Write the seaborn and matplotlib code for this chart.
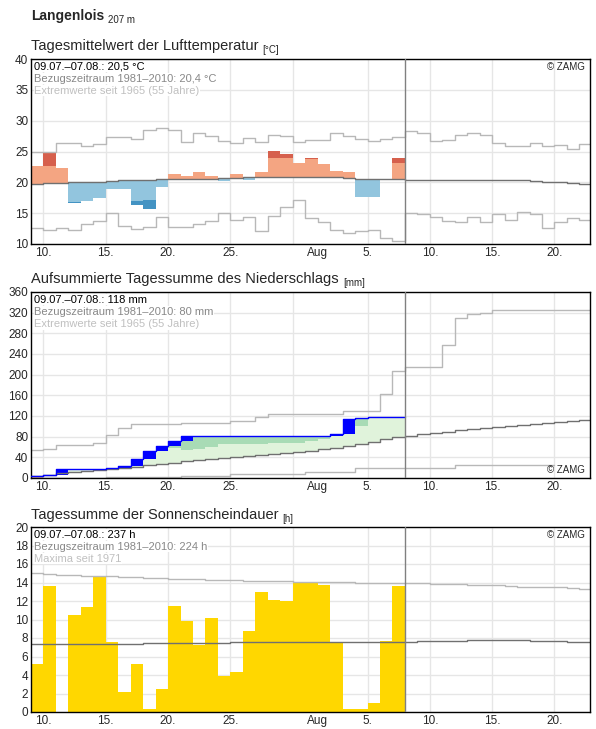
import matplotlib
matplotlib.use("Agg")
import matplotlib.pyplot as plt
import seaborn as sns
import numpy as np
import pandas as pd

# days counted from 09.07. (0) ; observations 09.07.-07.08. (30 days)
tick_pos = [1, 6, 11, 16, 23, 27, 32, 37, 42]
tick_lab = ['10.', '15.', '20.', '25.', 'Aug', '5.', '10.', '15.', '20.']
grid_pos = [1, 6, 11, 16, 21, 27, 32, 37, 42]

# temperature
temp = [22.7, 24.8, 22.3, 16.6, 16.9, 17.4, 18.9, 18.9, 16.4, 15.6,
        19.2, 21.3, 21.0, 21.6, 21.0, 20.2, 21.4, 20.3, 21.6, 25.1,
        24.6, 23.1, 24.0, 23.0, 21.8, 21.6, 17.6, 17.7, 20.6, 24.0]
temp_dark = [np.nan, 22.7, np.nan, 16.8, np.nan, np.nan, np.nan, np.nan, 17.0, 17.2,
             np.nan, np.nan, np.nan, np.nan, np.nan, np.nan, np.nan, np.nan, np.nan, 23.9,
             23.9, np.nan, 23.85, np.nan, np.nan, np.nan, np.nan, np.nan, np.nan, 23.2]
temp_mean = [19.8, 19.9, 19.9, 20.0, 20.0, 20.0, 20.2, 20.3, 20.4, 20.4,
             20.5, 20.6, 20.6, 20.6, 20.6, 20.7, 20.7, 20.8, 20.8, 20.9,
             20.9, 20.9, 20.9, 20.9, 20.8, 20.7, 20.6, 20.6, 20.6, 20.5,
             20.4, 20.4, 20.4, 20.4, 20.4, 20.4, 20.4, 20.4, 20.4, 20.3,
             20.2, 20.1, 20.0, 19.9, 19.7, 19.6]
temp_max = [25.0, 25.0, 26.4, 26.4, 25.9, 26.2, 27.3, 27.3, 27.0, 28.5,
            28.8, 28.5, 26.5, 28.0, 27.5, 26.7, 26.4, 27.2, 26.5, 27.7,
            27.5, 26.5, 26.8, 26.8, 28.0, 27.5, 27.1, 26.7, 27.1, 27.3,
            28.3, 28.0, 26.7, 26.9, 27.6, 28.0, 27.6, 26.4, 25.9, 25.9,
            26.3, 25.9, 26.0, 25.4, 26.2, 26.2]
temp_min = [12.6, 12.3, 12.6, 12.3, 13.3, 13.8, 15.0, 13.0, 12.5, 12.7,
            14.4, 12.7, 12.7, 13.2, 13.8, 15.0, 13.9, 14.4, 12.1, 14.5,
            16.0, 17.2, 14.2, 13.6, 12.3, 11.8, 12.1, 12.3, 10.9, 10.5,
            15.0, 14.8, 14.4, 13.8, 13.5, 14.4, 13.6, 14.9, 13.9, 15.2,
            14.9, 12.6, 13.6, 14.2, 13.9, 13.9]

# precipitation (cumulative)
rain_cum = [3, 6, 17, 17, 17, 17, 19, 23, 37, 52,
            61, 71, 81, 81, 81, 81, 81, 81, 81, 82,
            82, 82, 82, 82, 86, 115, 117, 118, 118, 118]
rain_dark_lo = [np.nan] * 11 + [59, 55, 56, 60, 65, 65, 65, 65, 67,
                                67, 67, 72, 76, 82, 88, 100, 106, np.nan, np.nan]
rain_mean = [4, 6, 9, 11, 13, 15, 17, 19, 22, 25,
             28, 30, 32, 34, 36, 38, 40, 42, 44, 46,
             48, 50, 53, 56, 59, 62, 66, 70, 75, 80,
             82, 85, 87, 89, 92, 94, 96, 99, 101, 103,
             105, 107, 109, 111, 113, 114]
rain_max = [55, 57, 64, 64, 64, 67, 84, 96, 105, 105,
            105, 105, 107, 107, 107, 107, 110, 110, 119, 124,
            124, 124, 124, 124, 124, 130, 130, 130, 163, 208,
            215, 215, 215, 258, 310, 317, 319, 325, 325, 325,
            325, 325, 325, 325, 325, 325]
rain_min = [0, 0, 0, 0, 0, 0, 2, 2, 2, 2,
            2, 2, 4, 4, 4, 4, 7, 7, 7, 7,
            7, 7, 12, 12, 12, 12, 20, 20, 20, 20,
            20, 20, 20, 20, 26, 26, 26, 26, 26, 26,
            26, 26, 26, np.nan, np.nan, np.nan]

# sunshine duration
sun = [5.2, 13.6, 0, 10.5, 11.4, 14.6, 7.6, 2.2, 5.2, 0.3,
       2.5, 11.5, 9.8, 7.2, 10.2, 3.9, 4.3, 8.8, 13.0, 12.1,
       12.0, 14.0, 14.0, 13.7, 7.5, 0.3, 0.3, 1.0, 7.7, 13.6]
sun_mean = [7.4] * 9 + [7.5] * 7 + [7.6] * 15 + [7.7] * 4 + [7.8] * 5 + [7.7] * 3 + [7.6] * 3
sun_max = [15.0, 14.9, 14.8, 14.8, 14.75, 14.7, 14.7, 14.6, 14.55, 14.5,
           14.45, 14.4, 14.35, 14.35, 14.3, 14.3, 14.25, 14.2, 14.2, 14.15,
           14.15, 14.1, 14.1, 14.1, 14.05, 14.05, 14.0, 14.0, 14.0, 13.95,
           13.95, 13.9, 13.85, 13.8, 13.8, 13.75, 13.7, 13.7, 13.6, 13.55,
           13.55, 13.5, 13.5, 13.4, 13.25, 13.25]

sns.set_style("white")
plt.rcParams['font.family'] = ['Liberation Sans', 'DejaVu Sans']

fig = plt.figure(figsize=(5.96, 7.29), dpi=100)
W, H = 596, 729
def add_ax(top, bottom):
    return fig.add_axes([31 / W, 1 - bottom / H, (590 - 31) / W, (bottom - top) / H])

ax1 = add_ax(59, 244)
ax2 = add_ax(292, 478)
ax3 = add_ax(527, 712)

def step(ax, vals, color, lw=1.0):
    v = list(vals)
    df = pd.DataFrame({'x': np.arange(len(v) + 1), 'y': v + [v[-1]]})
    sns.lineplot(data=df, x='x', y='y', ax=ax, drawstyle='steps-post', color=color, lw=lw)
    ax.set_xlabel('')
    ax.set_ylabel('')

def style(ax, ylim, yticks):
    ax.set_xlim(0, 44.85)
    ax.set_ylim(*ylim)
    ax.set_yticks(yticks)
    ax.set_xticks(tick_pos)
    ax.set_xticklabels(tick_lab)
    for g in grid_pos:
        ax.axvline(g, color='#e6e6e6', lw=1, zorder=0)
    for t in yticks:
        ax.axhline(t, color='#e6e6e6', lw=1, zorder=0)
    ax.axvline(30, color='#808080', lw=1, zorder=5)
    ax.tick_params(labelsize=8.5, length=0, pad=2)
    for s in ax.spines.values():
        s.set_color('black')
        s.set_linewidth(1)

days = np.arange(30)
bar_kw = dict(width=1, align='edge', linewidth=0, edgecolor='none')

# --- temperature
style(ax1, (10, 40), range(10, 41, 5))
tm = np.array(temp_mean[:30])
tv = np.array(temp)
cols = ['#f4a582' if v >= m else '#92c5de' for v, m in zip(tv, tm)]
ax1.bar(days, tv - tm, bottom=tm, color=cols, zorder=2, **bar_kw)
td = np.array(temp_dark)
dcols = ['#d6604d' if v >= m else '#4393c3' for v, m in zip(tv, tm)]
ax1.bar(days, tv - td, bottom=td, color=dcols, zorder=2, **bar_kw)
step(ax1, temp_max, '#b8b8b8')
step(ax1, temp_min, '#b8b8b8')
step(ax1, temp_mean, '#707070')

# --- precipitation
style(ax2, (0, 360), range(0, 361, 40))
x31 = np.arange(31)
rc = np.array(rain_cum + [rain_cum[-1]], float)
rm = np.array(rain_mean[:31], float)
ax2.fill_between(x31, rm, rc, where=rc >= rm, step='post', color='#e0f3db', lw=0, zorder=1)
dl = np.array(rain_dark_lo + [np.nan], float)
ax2.fill_between(x31, dl, rc, step='post', color='#a8dbb5', lw=0, zorder=1)
prev = np.array([0] + rain_cum[:-1], float)
inc = np.array(rain_cum) - prev
bcols = ['#f4b183' if i == 0 else '#0000ff' for i in days]
ax2.bar(days, inc, bottom=prev, color=bcols, zorder=2, **bar_kw)
step(ax2, rain_max, '#b8b8b8')
step(ax2, rain_min, '#b8b8b8')
step(ax2, rain_mean, '#707070')
step(ax2, rain_cum, '#0000ff')
ax2.lines[-1].set_zorder(3)

# --- sunshine
style(ax3, (0, 20), range(0, 21, 2))
ax3.bar(days, sun, color='#ffd700', zorder=2, **bar_kw)
step(ax3, sun_max, '#b8b8b8')
step(ax3, sun_mean, '#707070')

infos = [
    (ax1, ['09.07.–07.08.: 20,5 °C', 'Bezugszeitraum 1981–2010: 20,4 °C', 'Extremwerte seit 1965 (55 Jahre)'], 'top'),
    (ax2, ['09.07.–07.08.: 118 mm', 'Bezugszeitraum 1981–2010: 80 mm', 'Extremwerte seit 1965 (55 Jahre)'], 'bottom'),
    (ax3, ['09.07.–07.08.: 237 h', 'Bezugszeitraum 1981–2010: 224 h', 'Maxima seit 1971'], 'top'),
]
for ax, lines, zpos in infos:
    for k, (txt, c) in enumerate(zip(lines, ['black', '#888888', '#c0c0c0'])):
        ax.text(0.006, 0.985 - k * 0.065, txt, transform=ax.transAxes, fontsize=8,
                color=c, va='top', ha='left', zorder=6,
                bbox=dict(facecolor='white', edgecolor='none', pad=0.5))
    yz = 0.985 if zpos == 'top' else 0.015
    ax.text(0.99, yz, '© ZAMG', transform=ax.transAxes, fontsize=7, ha='right',
            va=zpos, zorder=6)

def title(y, main, unit, size=10.5, weight='normal'):
    t = fig.text(31 / W, 1 - y / H, main, fontsize=size, weight=weight, va='baseline')
    plt.annotate(unit, xy=(1, 0), xycoords=t, xytext=(3, 0), textcoords='offset points',
                 fontsize=7, va='baseline', annotation_clip=False)

title(20, 'Langenlois', '207 m', size=10, weight='bold')
title(50, 'Tagesmittelwert der Lufttemperatur', '[°C]')
title(283, 'Aufsummierte Tagessumme des Niederschlags', '[mm]')
title(519, 'Tagessumme der Sonnenscheindauer', '[h]')

fig.savefig('out.png', dpi=100)
